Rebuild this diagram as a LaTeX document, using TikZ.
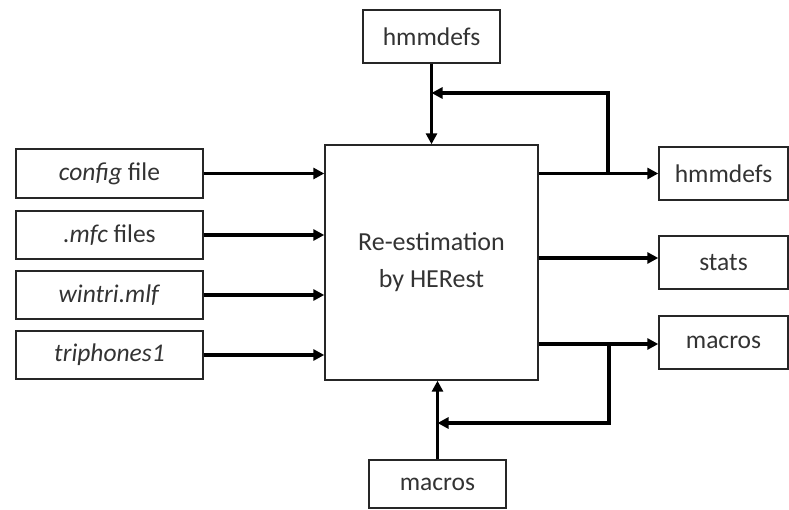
\documentclass[tikz,border=0pt]{standalone}
\usepackage{fontspec}
\setmainfont{Carlito}
\usetikzlibrary{arrows.meta}
\begin{document}
\begin{tikzpicture}[x=1pt,y=-1pt,
  box/.style={draw=black!85,line width=1.4pt,inner sep=0pt,font=\fontsize{25.5}{28}\selectfont,text=black!80},
  conn/.style={line width=3.2pt,-{Triangle[length=11pt,width=11pt]}},
  line/.style={line width=3.2pt}]
\useasboundingbox (0,0) rectangle (789,510);
\node[box,minimum width=187pt,minimum height=49pt] (cfg) at (109.5,173.5) {\textit{config} file};
\node[box,minimum width=187pt,minimum height=48pt] (mfc) at (109.5,235) {\textit{.mfc} files};
\node[box,minimum width=187pt,minimum height=48pt] (wtr) at (109.5,295) {\textit{wintri.mlf}};
\node[box,minimum width=187pt,minimum height=48pt] (tri) at (109.5,355) {\textit{triphones1}};
\node[box,minimum width=213pt,minimum height=235pt,align=center,font=\fontsize{26}{37}\selectfont] (main) at (431.5,262.5) {Re-estimation\\by HERest};
\node[box,minimum width=137pt,minimum height=53pt] (htop) at (431.5,36.5) {hmmdefs};
\node[box,minimum width=137pt,minimum height=48pt] (mbot) at (437.5,484) {macros};
\node[box,minimum width=129pt,minimum height=53pt] (hout) at (723.5,173.5) {hmmdefs};
\node[box,minimum width=129pt,minimum height=53pt] (sout) at (723.5,262.5) {stats};
\node[box,minimum width=129pt,minimum height=53pt] (mout) at (723.5,342.5) {macros};
\draw[conn] (cfg.east) -- (cfg.east -| main.west);
\draw[conn] (mfc.east) -- (mfc.east -| main.west);
\draw[conn] (wtr.east) -- (wtr.east -| main.west);
\draw[conn] (tri.east) -- (tri.east -| main.west);
\draw[conn] (main.east |- hout.west) -- (hout.west);
\draw[conn] (main.east |- 0,258) -- (sout.west |- 0,258);
\draw[conn] (main.east |- 0,344) -- (mout.west |- 0,344);
\draw[conn] (htop.south) -- (main.north -| htop.south);
\draw[conn] (mbot.north) -- (main.south -| mbot.north);
\coordinate (hsplit) at (608,173.5);
\coordinate (hjoin) at (431.5,93);
\coordinate (msplit) at (609,344);
\coordinate (mjoin) at (437.5,423);
\draw[conn] (hsplit) |- (hjoin);
\draw[conn] (msplit) |- (mjoin);
\end{tikzpicture}
\end{document}
